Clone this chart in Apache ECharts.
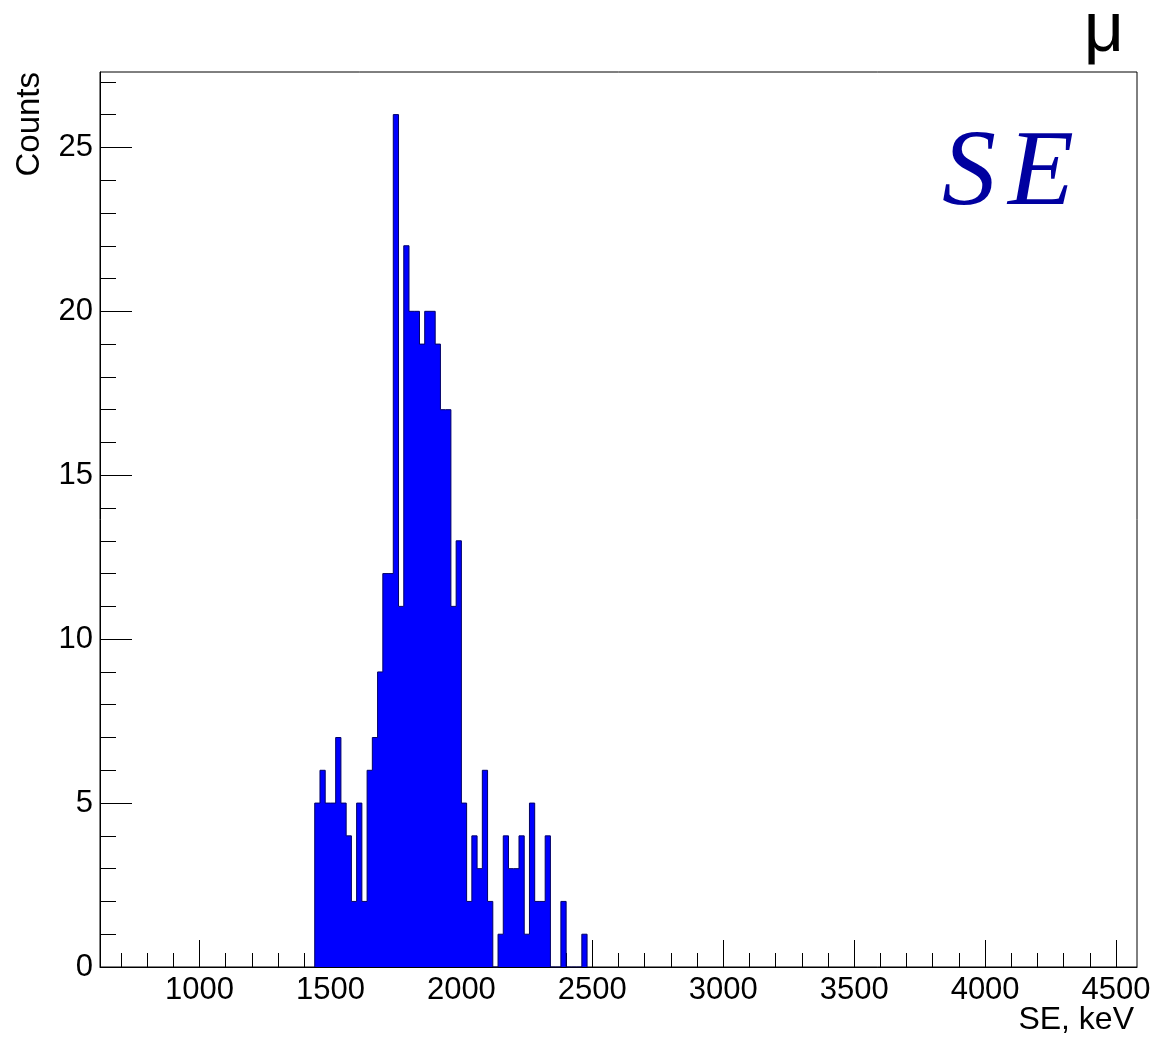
<!DOCTYPE html>
<html>
<head>
<meta charset="utf-8">
<script src="https://cdn.jsdelivr.net/npm/echarts@6/dist/echarts.min.js"></script>
<style>
  html, body { margin: 0; padding: 0; background: #fff; }
  #chart { width: 1161px; height: 1047px; }
</style>
</head>
<body>
<div id="chart"></div>
<script>
// histogram: bins of 20 keV starting at 1440 keV
const binStart = 1440;
const binWidth = 20;
const counts = [5, 6, 5, 5, 7, 5, 4, 2, 5, 2, 6, 7, 9, 12, 12, 26, 11, 22, 20, 20,
                19, 20, 20, 19, 17, 17, 11, 13, 5, 2, 4, 3, 6, 2, 0, 1, 4, 3, 3, 4,
                1, 5, 2, 2, 4, 0, 0, 2, 0, 0, 0, 1];

// axis ticks
const xMajorTicks = [1000, 1500, 2000, 2500, 3000, 3500, 4000, 4500];
const xMinorTicks = [];
for (let v = 700; v <= 4500; v += 100) xMinorTicks.push(v);
const yMajorTicks = [0, 5, 10, 15, 20, 25];
const yMinorTicks = [];
for (let v = 1; v <= 27; v++) yMinorTicks.push(v);

// contour points for the stepped outline
const stepData = [[binStart, 0]];
counts.forEach(function (c, i) {
    stepData.push([binStart + i * binWidth, c]);
});
stepData.push([binStart + counts.length * binWidth, 0]);

const fontFam = 'Liberation Sans, Arial, sans-serif';
const plainNum = function (v) { return String(v); };

var chart = echarts.init(document.getElementById('chart'), null, { renderer: 'canvas' });

var option = {
    backgroundColor: '#fff',
    animation: false,
    grid: {
        left: 100, right: 24, top: 72, bottom: 80,
        show: true, borderColor: '#000', borderWidth: 1, backgroundColor: 'transparent'
    },
    xAxis: [
        {
            type: 'value', min: 620, max: 4580, position: 'bottom',
            axisLine: { show: true, onZero: false, lineStyle: { color: '#000' } },
            axisTick: { show: true, inside: true, length: 27, customValues: xMajorTicks, lineStyle: { color: '#000' } },
            axisLabel: { customValues: xMajorTicks, formatter: plainNum, color: '#000', fontSize: 31, fontFamily: fontFam, margin: 8 },
            splitLine: { show: false }
        },
        {
            type: 'value', min: 620, max: 4580, position: 'bottom',
            axisLine: { show: false, onZero: false },
            axisTick: { show: true, inside: true, length: 14, customValues: xMinorTicks, lineStyle: { color: '#000' } },
            axisLabel: { show: false },
            splitLine: { show: false }
        }
    ],
    yAxis: [
        {
            type: 'value', min: 0, max: 27.3, position: 'left',
            axisLine: { show: true, onZero: false, lineStyle: { color: '#000' } },
            axisTick: { show: true, inside: true, length: 32, customValues: yMajorTicks, lineStyle: { color: '#000' } },
            axisLabel: { customValues: yMajorTicks, formatter: plainNum, color: '#000', fontSize: 31, fontFamily: fontFam, margin: 7 },
            splitLine: { show: false }
        },
        {
            type: 'value', min: 0, max: 27.3, position: 'left',
            axisLine: { show: false, onZero: false },
            axisTick: { show: true, inside: true, length: 16, customValues: yMinorTicks, lineStyle: { color: '#000' } },
            axisLabel: { show: false },
            splitLine: { show: false }
        }
    ],
    series: [
        {
            type: 'line',
            xAxisIndex: 0,
            yAxisIndex: 0,
            step: 'end',
            symbol: 'none',
            data: stepData,
            lineStyle: { color: '#000066', width: 1 },
            areaStyle: { color: '#0000ff', opacity: 1 }
        }
    ],
    graphic: [
        {
            type: 'text', x: 30, y: 72, rotation: Math.PI / 2,
            style: { text: 'Counts', fontSize: 33, fontFamily: fontFam, fill: '#000', align: 'right', verticalAlign: 'middle' }
        },
        {
            type: 'text', x: 1134, y: 1020,
            style: { text: 'SE, keV', fontSize: 32, fontFamily: fontFam, fill: '#000', align: 'right', verticalAlign: 'middle' }
        },
        {
            type: 'text', x: 1124, y: 32,
            style: { text: 'μ', fontSize: 70, fontFamily: fontFam, fill: '#000', align: 'right', verticalAlign: 'middle' }
        },
        {
            type: 'text', x: 942, y: 176,
            style: { text: 'S', fontSize: 108, fontStyle: 'italic', fontFamily: 'Liberation Serif, serif', fill: '#0000a0', align: 'left', verticalAlign: 'middle' }
        },
        {
            type: 'text', x: 1008, y: 176,
            style: { text: 'E', fontSize: 108, fontStyle: 'italic', fontFamily: 'Liberation Serif, serif', fill: '#0000a0', align: 'left', verticalAlign: 'middle' }
        }
    ]
};

chart.setOption(option);
</script>
</body>
</html>
